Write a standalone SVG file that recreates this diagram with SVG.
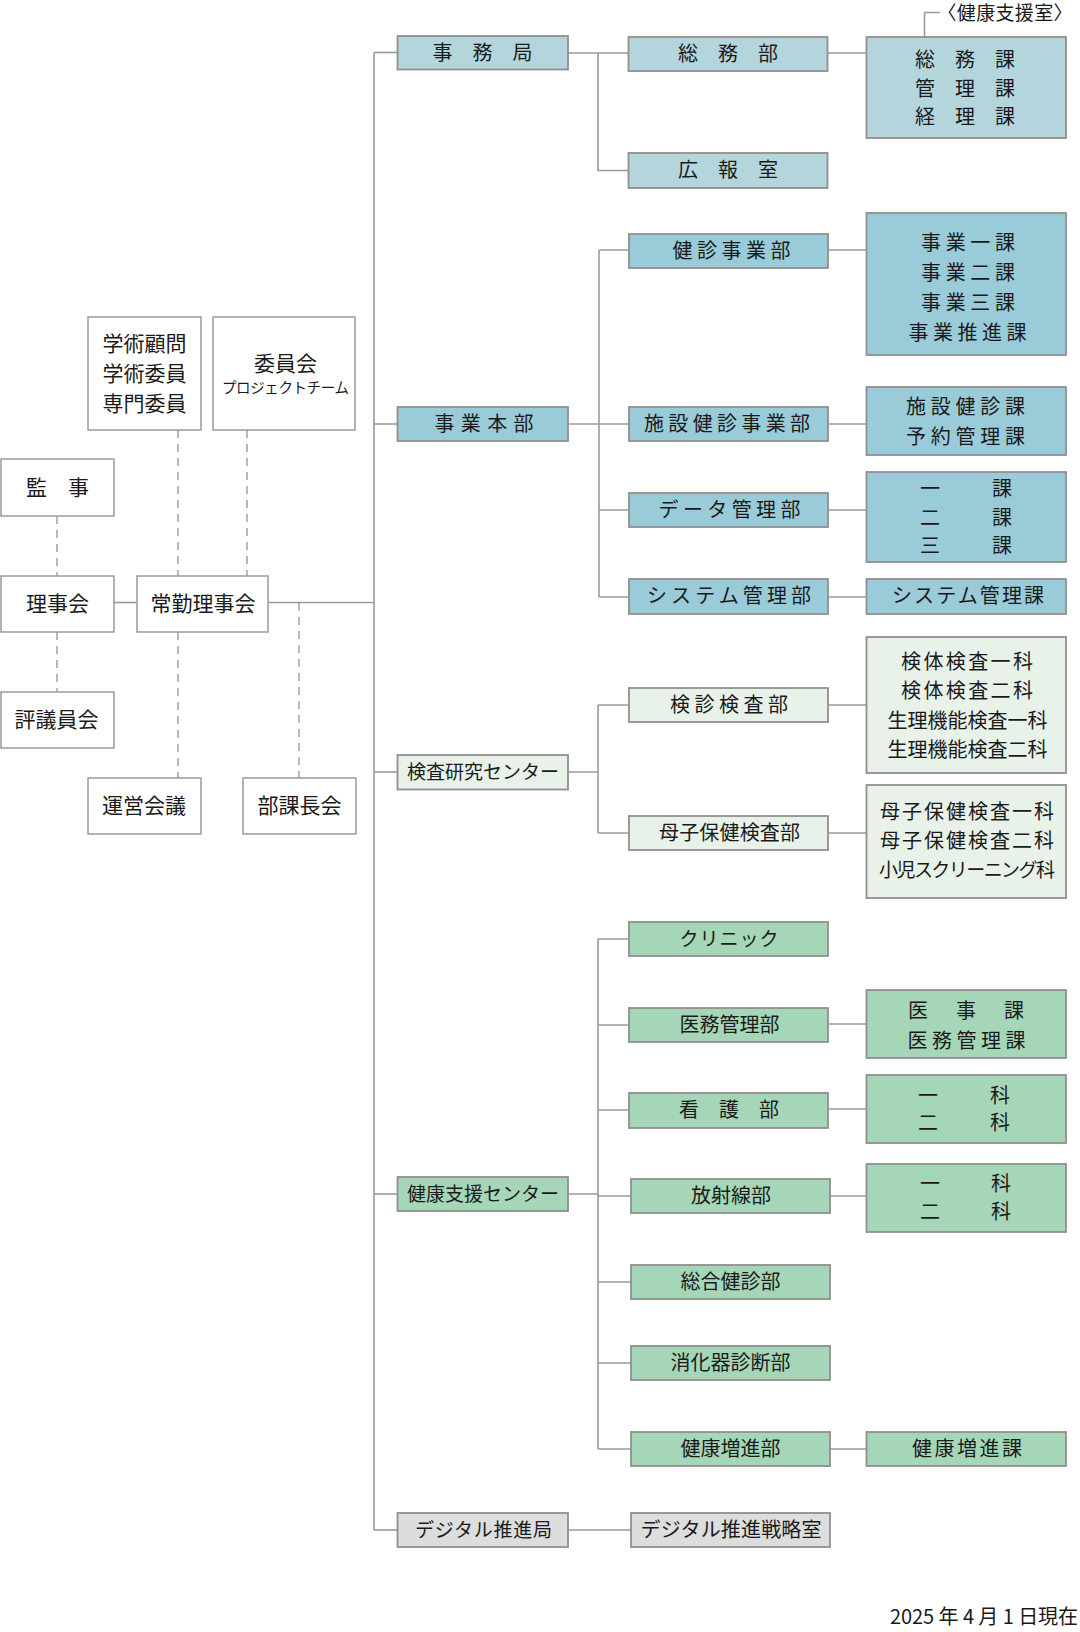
<svg xmlns="http://www.w3.org/2000/svg" width="1080" height="1632" viewBox="0 0 1080 1632">
<style>
  .bw{fill:#ffffff;stroke:#9a9a9a;stroke-width:1.5}
  .b1{fill:#b4d5dc;stroke:#8f8f8f;stroke-width:1.8}
  .b2{fill:#9acbd8;stroke:#8f8f8f;stroke-width:1.8}
  .b3{fill:#e8f2e9;stroke:#8f8f8f;stroke-width:1.8}
  .b4{fill:#a6d6b8;stroke:#8f8f8f;stroke-width:1.8}
  .b5{fill:#dcdddd;stroke:#8f8f8f;stroke-width:1.8}
  text{font-family:"Noto Sans CJK JP","Noto Sans",sans-serif;fill:#1a1a1a;dominant-baseline:central;text-anchor:middle;transform:translateY(-2px)}
  .t21{font-size:21px}
  .t20{font-size:20px}
  .t19{font-size:19px}
  .t15{font-size:14.5px}
  .ln{stroke:#9a9a9a;stroke-width:1.6;fill:none}
  .dash{stroke:#8a8a8a;stroke-width:1.2;stroke-dasharray:8 6;fill:none}
</style>

<g id="connectors">
  <line class="ln" x1="114" y1="602.5" x2="137" y2="602.5"/>
  <line class="ln" x1="268" y1="602.5" x2="374" y2="602.5"/>
  <line class="dash" x1="57" y1="516" x2="57" y2="576"/>
  <line class="dash" x1="57" y1="632" x2="57" y2="692"/>
  <line class="dash" x1="178" y1="430" x2="178" y2="576"/>
  <line class="dash" x1="178" y1="632" x2="178" y2="778"/>
  <line class="dash" x1="247" y1="430" x2="247" y2="576"/>
  <line class="dash" x1="299" y1="603" x2="299" y2="778"/>
  <line class="ln" x1="374" y1="52.5" x2="374" y2="1530"/>
  <line class="ln" x1="374" y1="52.5" x2="397.5" y2="52.5"/>
  <line class="ln" x1="374" y1="424" x2="397.5" y2="424"/>
  <line class="ln" x1="374" y1="772" x2="397.5" y2="772"/>
  <line class="ln" x1="374" y1="1194" x2="397.5" y2="1194"/>
  <line class="ln" x1="374" y1="1530" x2="397.5" y2="1530"/>
  <path class="ln" d="M568 53H629M598 53V170.5H629M828 53H866.5"/>
  <path class="ln" d="M924.5 37V12.5H940"/>
  <path class="ln" d="M568 424H629M599 250V597M599 250H629M599 510H629M599 597H629"/>
  <path class="ln" d="M828 250H866.5M828 424H866.5M828 510H866.5M828 597H866.5"/>
  <path class="ln" d="M568 772H598M598 705V833M598 705H629M598 833H629"/>
  <path class="ln" d="M828 705H866.5M828 833H866.5"/>
  <path class="ln" d="M568 1194H598M598 939V1449M598 939H629M598 1025H629M598 1110H629M598 1196H631M598 1282H631M598 1363H631M598 1449H631"/>
  <path class="ln" d="M828 1024H866.5M828 1109H866.5M830 1196H866.5M830 1449H866.5"/>
  <path class="ln" d="M568 1530H631"/>
</g>

<g id="n-kanji"><rect class="bw" x="1" y="459" width="113" height="57"/><text class="t21" x="57.5" y="487.5">監　事</text></g>
<g id="n-rijikai"><rect class="bw" x="1" y="576" width="113" height="56"/><text class="t21" x="57.5" y="604">理事会</text></g>
<g id="n-hyogiinkai"><rect class="bw" x="1" y="692" width="113" height="56"/><text class="t21" x="56.5" y="720">評議員会</text></g>
<g id="n-jokin"><rect class="bw" x="137" y="576" width="131" height="56"/><text class="t21" x="203" y="604">常勤理事会</text></g>
<g id="n-gakujutsu"><rect class="bw" x="88" y="317" width="113" height="113"/>
  <text class="t21" x="144.5" y="344">学術顧問</text>
  <text class="t21" x="144.5" y="374">学術委員</text>
  <text class="t21" x="144.5" y="404">専門委員</text></g>
<g id="n-iinkai"><rect class="bw" x="213" y="317" width="142" height="113"/>
  <text class="t21" x="285.5" y="364">委員会</text>
  <text class="t15" x="285.5" y="388.5" textLength="127" lengthAdjust="spacing">プロジェクトチーム</text></g>
<g id="n-uneikaigi"><rect class="bw" x="88" y="778" width="113" height="56"/><text class="t21" x="144" y="806">運営会議</text></g>
<g id="n-bukachokai"><rect class="bw" x="243" y="778" width="113" height="56"/><text class="t21" x="299.5" y="806">部課長会</text></g>

<g id="n-jimukyoku"><rect class="b1" x="397.5" y="36" width="170.5" height="33.5"/><text class="t20" x="482.5" y="53">事　務　局</text></g>
<g id="n-jigyohonbu"><rect class="b2" x="397.5" y="407" width="170.5" height="34"/><text class="t20" x="484" y="424" textLength="99" lengthAdjust="spacing">事業本部</text></g>
<g id="n-kensa"><rect class="b3" x="397.5" y="755" width="170.5" height="34.5"/><text class="t19" x="483" y="772.5" textLength="152" lengthAdjust="spacing">検査研究センター</text></g>
<g id="n-kenkoshien"><rect class="b4" x="397.5" y="1177" width="170.5" height="34"/><text class="t19" x="483" y="1194.5" textLength="152" lengthAdjust="spacing">健康支援センター</text></g>
<g id="n-digital"><rect class="b5" x="397.5" y="1513" width="170.5" height="34"/><text class="t19" x="483.5" y="1530" textLength="137" lengthAdjust="spacing">デジタル推進局</text></g>

<g id="n-somubu"><rect class="b1" x="628.5" y="37" width="199" height="34"/><text class="t20" x="728" y="54">総　務　部</text></g>
<g id="n-kohoshitsu"><rect class="b1" x="628.5" y="153" width="199" height="35"/><text class="t20" x="728" y="170.5">広　報　室</text></g>
<g id="n-kenshinjigyobu"><rect class="b2" x="629" y="234" width="199" height="34"/><text class="t20" x="731.5" y="251" textLength="118" lengthAdjust="spacing">健診事業部</text></g>
<g id="n-shisetsu"><rect class="b2" x="629" y="407" width="199" height="34"/><text class="t20" x="727" y="424" textLength="166" lengthAdjust="spacing">施設健診事業部</text></g>
<g id="n-data"><rect class="b2" x="629" y="493" width="199" height="34"/><text class="t20" x="729.5" y="510" textLength="142" lengthAdjust="spacing">データ管理部</text></g>
<g id="n-system"><rect class="b2" x="629" y="579" width="199" height="35"/><text class="t20" x="729" y="596.5" textLength="164" lengthAdjust="spacing">システム管理部</text></g>
<g id="n-kenshinkensa"><rect class="b3" x="629" y="688" width="199" height="34"/><text class="t20" x="729" y="705" textLength="118" lengthAdjust="spacing">検診検査部</text></g>
<g id="n-boshi"><rect class="b3" x="629" y="816" width="199" height="34"/><text class="t20" x="729.5" y="833" textLength="141" lengthAdjust="spacing">母子保健検査部</text></g>
<g id="n-clinic"><rect class="b4" x="629" y="922" width="199" height="34"/><text class="t19" x="729" y="939" textLength="99" lengthAdjust="spacing">クリニック</text></g>
<g id="n-imukanri"><rect class="b4" x="629" y="1008" width="199" height="34"/><text class="t20" x="729.5" y="1025">医務管理部</text></g>
<g id="n-kango"><rect class="b4" x="629" y="1093" width="199" height="35"/><text class="t20" x="729" y="1110.5">看　護　部</text></g>
<g id="n-hoshasen"><rect class="b4" x="631" y="1179" width="199" height="34"/><text class="t20" x="731" y="1196">放射線部</text></g>
<g id="n-sogo"><rect class="b4" x="631" y="1265" width="199" height="34"/><text class="t20" x="730.5" y="1282">総合健診部</text></g>
<g id="n-shokaki"><rect class="b4" x="631" y="1346" width="199" height="34"/><text class="t20" x="730.5" y="1363">消化器診断部</text></g>
<g id="n-kenkozoshinbu"><rect class="b4" x="631" y="1432" width="199" height="34"/><text class="t20" x="730.5" y="1449">健康増進部</text></g>
<g id="n-digitalsenryaku"><rect class="b5" x="631" y="1513" width="199" height="34"/><text class="t20" x="731" y="1530" textLength="181" lengthAdjust="spacing">デジタル推進戦略室</text></g>

<g id="n-somuka"><rect class="b1" x="866.5" y="37" width="199.5" height="101"/>
  <text class="t20" x="965" y="60">総　務　課</text>
  <text class="t20" x="965" y="89">管　理　課</text>
  <text class="t20" x="965" y="117">経　理　課</text></g>
<text id="n-kenkoshienshitsu" x="1005" y="13.5" style="font-size:19px" textLength="135" lengthAdjust="spacing">〈健康支援室〉</text>
<g id="n-jigyoka"><rect class="b2" x="866.5" y="213" width="199.5" height="142"/>
  <text class="t20" x="968" y="243" textLength="94" lengthAdjust="spacing">事業一課</text>
  <text class="t20" x="968" y="273" textLength="94" lengthAdjust="spacing">事業二課</text>
  <text class="t20" x="968" y="303" textLength="94" lengthAdjust="spacing">事業三課</text>
  <text class="t20" x="967.5" y="333" textLength="118" lengthAdjust="spacing">事業推進課</text></g>
<g id="n-shisetsuka"><rect class="b2" x="866.5" y="387" width="199.5" height="68"/>
  <text class="t20" x="965.5" y="407" textLength="119" lengthAdjust="spacing">施設健診課</text>
  <text class="t20" x="965.5" y="437" textLength="119" lengthAdjust="spacing">予約管理課</text></g>
<g id="n-dataka"><rect class="b2" x="866.5" y="472" width="199.5" height="90"/>
  <text class="t20" x="930" y="489">一</text><text class="t20" x="1002" y="489">課</text>
  <text class="t20" x="930" y="518">二</text><text class="t20" x="1002" y="518">課</text>
  <text class="t20" x="930" y="546">三</text><text class="t20" x="1002" y="546">課</text></g>
<g id="n-systemka"><rect class="b2" x="866.5" y="579" width="199.5" height="35"/><text class="t20" x="968" y="596.5" textLength="152" lengthAdjust="spacing">システム管理課</text></g>
<g id="n-kentaika"><rect class="b3" x="866.5" y="637" width="199.5" height="136"/>
  <text class="t20" x="967" y="662" textLength="132" lengthAdjust="spacing">検体検査一科</text>
  <text class="t20" x="967" y="691" textLength="132" lengthAdjust="spacing">検体検査二科</text>
  <text class="t20" x="967.5" y="721">生理機能検査一科</text>
  <text class="t20" x="967.5" y="750.5">生理機能検査二科</text></g>
<g id="n-boshika"><rect class="b3" x="866.5" y="785" width="199.5" height="113"/>
  <text class="t20" x="967" y="812" textLength="174" lengthAdjust="spacing">母子保健検査一科</text>
  <text class="t20" x="967" y="841" textLength="174" lengthAdjust="spacing">母子保健検査二科</text>
  <text class="t19" x="967" y="870.5" textLength="176" lengthAdjust="spacing">小児スクリーニング科</text></g>
<g id="n-ijika"><rect class="b4" x="866.5" y="990" width="199.5" height="68"/>
  <text class="t20" x="918" y="1011">医</text><text class="t20" x="966" y="1011">事</text><text class="t20" x="1014" y="1011">課</text>
  <text class="t20" x="966.5" y="1041" textLength="118" lengthAdjust="spacing">医務管理課</text></g>
<g id="n-kangoka"><rect class="b4" x="866.5" y="1075" width="199.5" height="68"/>
  <text class="t20" x="928" y="1096">一</text><text class="t20" x="1000" y="1096">科</text>
  <text class="t20" x="928" y="1123.5">二</text><text class="t20" x="1000" y="1123.5">科</text></g>
<g id="n-hoshasenka"><rect class="b4" x="866.5" y="1164" width="199.5" height="68"/>
  <text class="t20" x="930" y="1184">一</text><text class="t20" x="1001" y="1184">科</text>
  <text class="t20" x="930" y="1212">二</text><text class="t20" x="1001" y="1212">科</text></g>
<g id="n-kenkozoshinka"><rect class="b4" x="866.5" y="1432" width="199.5" height="34"/><text class="t20" x="967" y="1449" textLength="110" lengthAdjust="spacing">健康増進課</text></g>

<text id="date" x="1078" y="1617" style="font-size:20px;text-anchor:end" textLength="188" lengthAdjust="spacing">2025 年 4 月 1 日現在</text>
</svg>
